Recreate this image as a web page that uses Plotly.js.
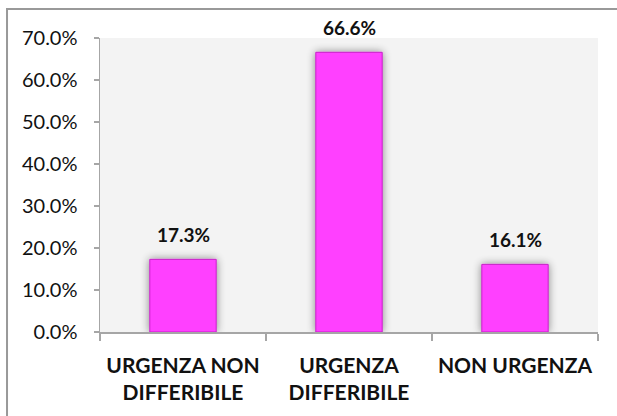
<!DOCTYPE html>
<html>
<head>
<meta charset="utf-8">
<script src="https://cdn.plot.ly/plotly-3.0.1.min.js"></script>
<style>
html,body{margin:0;padding:0;background:#fff;}
#chart{width:617px;height:416px;}
</style>
</head>
<body>
<div id="chart"></div>
<script>
var categories = ["URGENZA NON<br>DIFFERIBILE", "URGENZA<br>DIFFERIBILE", "NON URGENZA"];
var values = [17.3, 66.6, 16.1];
var tickValues = [0, 10, 20, 30, 40, 50, 60, 70];
var tickLabels = ["0.0%", "10.0%", "20.0%", "30.0%", "40.0%", "50.0%", "60.0%", "70.0%"];

var FONT = "Lato, 'Open Sans', sans-serif";

var trace = {
  type: "bar",
  x: categories,
  y: values,
  marker: {color: "#ff40ff", line: {color: "#c81fc8", width: 1}},
  hoverinfo: "skip"
};

var annotations = values.map(function(v, i){
  return {
    x: categories[i], y: v, xref: "x", yref: "y",
    text: v.toFixed(1) + "%",
    showarrow: false, yanchor: "bottom", yshift: 11,
    font: {family: FONT, size: 19, color: "#111", weight: "bold"}
  };
});

var layout = {
  width: 617, height: 416,
  margin: {l: 100, r: 19, t: 38, b: 84},
  paper_bgcolor: "#ffffff",
  plot_bgcolor: "#f3f3f3",
  bargap: 0.6,
  showlegend: false,
  font: {family: FONT, color: "#111"},
  xaxis: {
    type: "category",
    showline: true, linecolor: "#a6a6a6", linewidth: 1.5,
    ticks: "outside", ticklen: 7, tickcolor: "#a6a6a6", tickwidth: 1.5,
    tickson: "boundaries",
    showgrid: false, zeroline: false,
    tickfont: {family: FONT, size: 21, color: "#111", weight: "bold"},
    ticklabelstandoff: 14
  },
  yaxis: {
    range: [0, 70],
    tickvals: tickValues, ticktext: tickLabels,
    showline: true, linecolor: "#a6a6a6", linewidth: 1.5,
    ticks: "outside", ticklen: 5, tickcolor: "#a6a6a6", tickwidth: 1.5,
    showgrid: false, zeroline: false,
    tickfont: {family: FONT, size: 20, color: "#111"},
    ticklabelstandoff: 12
  },
  annotations: annotations,
  shapes: [{
    type: "rect", xref: "paper", yref: "paper",
    x0: -0.1867, x1: 1.2, y0: -0.5, y1: 1.0986,
    line: {color: "#999999", width: 2}, fillcolor: "rgba(0,0,0,0)", layer: "below"
  }]
};

var gd = document.getElementById("chart");
Plotly.newPlot(gd, [trace], layout, {displayModeBar: false, staticPlot: true});

function addGlow(){
  var NS = "http://www.w3.org/2000/svg";
  var svg = gd.querySelector("svg.main-svg");
  if (!svg) return 0;
  if (!document.getElementById("barglow")) {
    var defs = document.createElementNS(NS, "defs");
    var f = document.createElementNS(NS, "filter");
    f.setAttribute("id", "barglow");
    f.setAttribute("x", "-50%"); f.setAttribute("y", "-50%");
    f.setAttribute("width", "200%"); f.setAttribute("height", "200%");
    var blur = document.createElementNS(NS, "feGaussianBlur");
    blur.setAttribute("in", "SourceAlpha");
    blur.setAttribute("stdDeviation", "4");
    blur.setAttribute("result", "b");
    var ct = document.createElementNS(NS, "feComponentTransfer");
    ct.setAttribute("in", "b"); ct.setAttribute("result", "s");
    var fa = document.createElementNS(NS, "feFuncA");
    fa.setAttribute("type", "linear"); fa.setAttribute("slope", "0.45");
    ct.appendChild(fa);
    var merge = document.createElementNS(NS, "feMerge");
    var m1 = document.createElementNS(NS, "feMergeNode"); m1.setAttribute("in", "s");
    var m2 = document.createElementNS(NS, "feMergeNode"); m2.setAttribute("in", "SourceGraphic");
    merge.appendChild(m1); merge.appendChild(m2);
    f.appendChild(blur); f.appendChild(ct); f.appendChild(merge);
    defs.appendChild(f);
    svg.appendChild(defs);
  }
  var paths = gd.querySelectorAll("g.barlayer path");
  paths.forEach(function(p){ p.setAttribute("filter", "url(#barglow)"); });
  return paths.length;
}
addGlow();
setTimeout(addGlow, 50);
</script>
</body>
</html>
